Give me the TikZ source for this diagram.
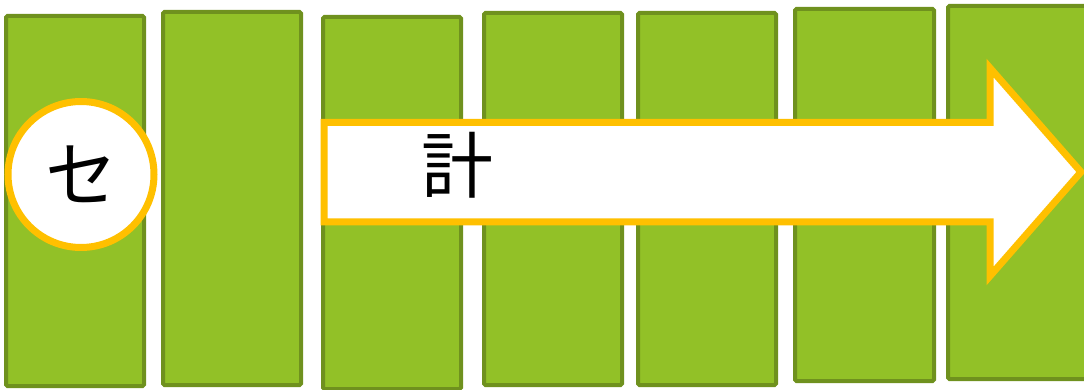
\documentclass[tikz,border=0pt]{standalone}
\usepackage{fontspec}
\newfontfamily\cjk{Noto Sans CJK JP}
\definecolor{leaf}{RGB}{146,193,39}
\definecolor{leafedge}{RGB}{111,145,30}
\definecolor{amber}{RGB}{255,192,0}
\tikzset{bar/.style={draw=leafedge, fill=leaf, line width=4pt, rounded corners=1.5pt},
  ring/.style={draw=amber, fill=white, line width=7pt},
  glyph/.style={font=\cjk\fontsize{72}{72}\selectfont, inner sep=0pt}}

\begin{document}
\begin{tikzpicture}[x=1pt, y=-1pt]
  \useasboundingbox (0,0) rectangle (1084,390);
  \clip (0,0) rectangle (1084,390);
  % green bars
  \foreach \l/\t/\r/\b in {6/16/144/386, 163/12/301/385, 323/17/461/389, 484/13/622/385,
      638/13/776/385, 795/9/934/381, 948/6/1092/379}
    \draw[bar] (\l,\t) rectangle (\r,\b);
  % circle marker
  \node[ring, circle, minimum size=146pt, inner sep=0pt] (se) at (81,174.5) {};
  \node[glyph] at (se.center) {セ};
  % big arrow
  \draw[ring, line join=miter] (324,122.5) -- (990,122.5) -- (990,68) -- (1081,172)
    -- (990,276) -- (990,222) -- (324,222) -- cycle;
  \node[glyph] (kei) at (457,165) {計};
\end{tikzpicture}
\end{document}
